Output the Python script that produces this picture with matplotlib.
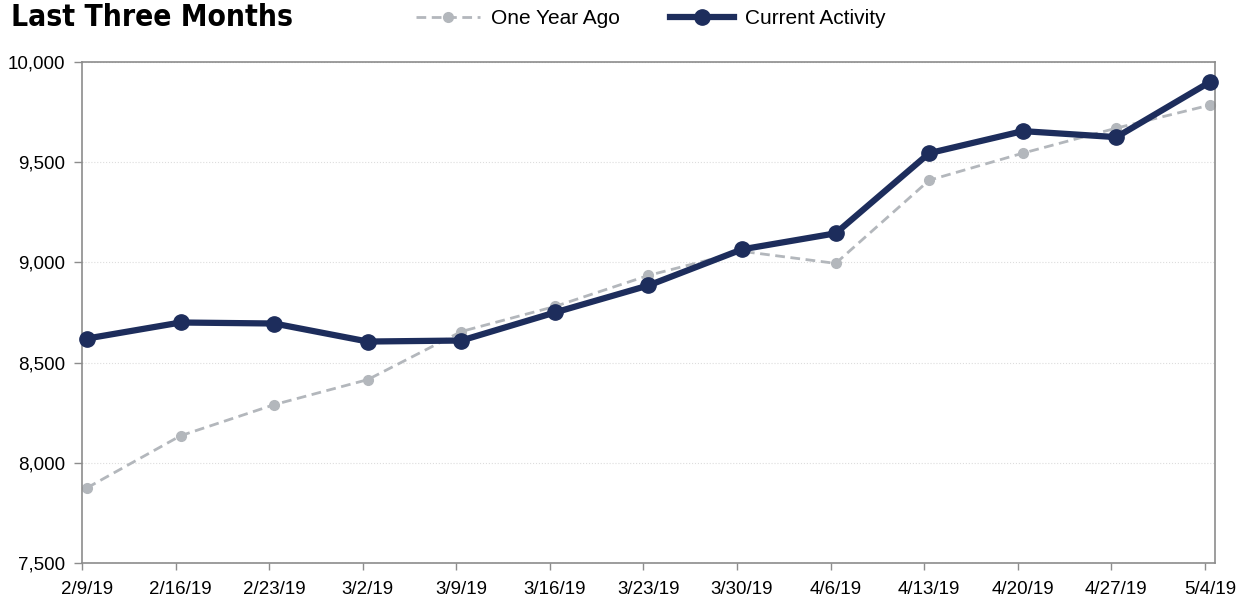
import matplotlib.pyplot as plt
import pandas as pd

# weekly dates
dates = pd.to_datetime(['2019-02-09', '2019-02-16', '2019-02-23', '2019-03-02', '2019-03-09',
                        '2019-03-16', '2019-03-23', '2019-03-30', '2019-04-06', '2019-04-13',
                        '2019-04-20', '2019-04-27', '2019-05-04'])
tick_labels = ['2/9/19', '2/16/19', '2/23/19', '3/2/19', '3/9/19', '3/16/19', '3/23/19',
               '3/30/19', '4/6/19', '4/13/19', '4/20/19', '4/27/19', '5/4/19']
one_year_ago = [7875, 8135, 8290, 8415, 8655, 8780, 8935, 9055, 8995, 9410, 9545, 9670, 9785]
current = [8620, 8700, 8695, 8605, 8610, 8750, 8885, 9065, 9145, 9545, 9655, 9625, 9900]

navy = '#1d2d5c'
grey = '#b3b7bc'
axis_grey = '#8c8c8c'

plt.rcParams['font.family'] = ['Liberation Sans', 'DejaVu Sans']

fig = plt.figure(figsize=(12.37, 6), dpi=100)
ax = fig.add_axes([0.0663, 0.0617, 0.9159, 0.835])

l1, = ax.plot(dates, one_year_ago, color=grey, lw=2, ls=(0, (3.5, 2)), marker='o', ms=7,
              label='One Year Ago', zorder=2, clip_on=False)
l2, = ax.plot(dates, current, color=navy, lw=4.5, marker='o', ms=11,
              label='Current Activity', zorder=3, clip_on=False)

# small padding like the original category axis
pad = pd.Timedelta(hours=9)
ax.set_xlim(dates[0] - pad, dates[-1] + pad)
ax.set_ylim(7500, 10000)

# labels sit under the points, tick marks a little to the left
ax.set_xticks(dates)
ax.set_xticklabels(tick_labels)
ax.set_xticks(dates - pad, minor=True)
ax.tick_params(axis='x', which='major', length=0, pad=13)
ax.tick_params(axis='x', which='minor', length=5, width=1, color=axis_grey, direction='out')
ax.set_yticks([7500, 8000, 8500, 9000, 9500, 10000])
ax.set_yticklabels(['7,500', '8,000', '8,500', '9,000', '9,500', '10,000'])
ax.tick_params(axis='y', length=6, width=1, color=axis_grey, direction='out', pad=6)
ax.tick_params(labelsize=13.5)
for s in ax.spines.values():
    s.set_color(axis_grey)
    s.set_linewidth(1.2)
ax.grid(axis='y', color='#dddddd', ls=':', lw=0.8)
ax.set_axisbelow(True)

fig.text(0.009, 0.97, 'Last Three Months', fontsize=21.5, fontweight='heavy', fontstretch='condensed',
         family=['DejaVu Sans'], va='center', ha='left')
fig.legend(handles=[l1, l2], loc='center', bbox_to_anchor=(0.526, 0.969), ncol=2,
           frameon=False, fontsize=15, handlelength=3.1, columnspacing=2.4, handletextpad=0.5)

fig.savefig('out.png', dpi=100)
